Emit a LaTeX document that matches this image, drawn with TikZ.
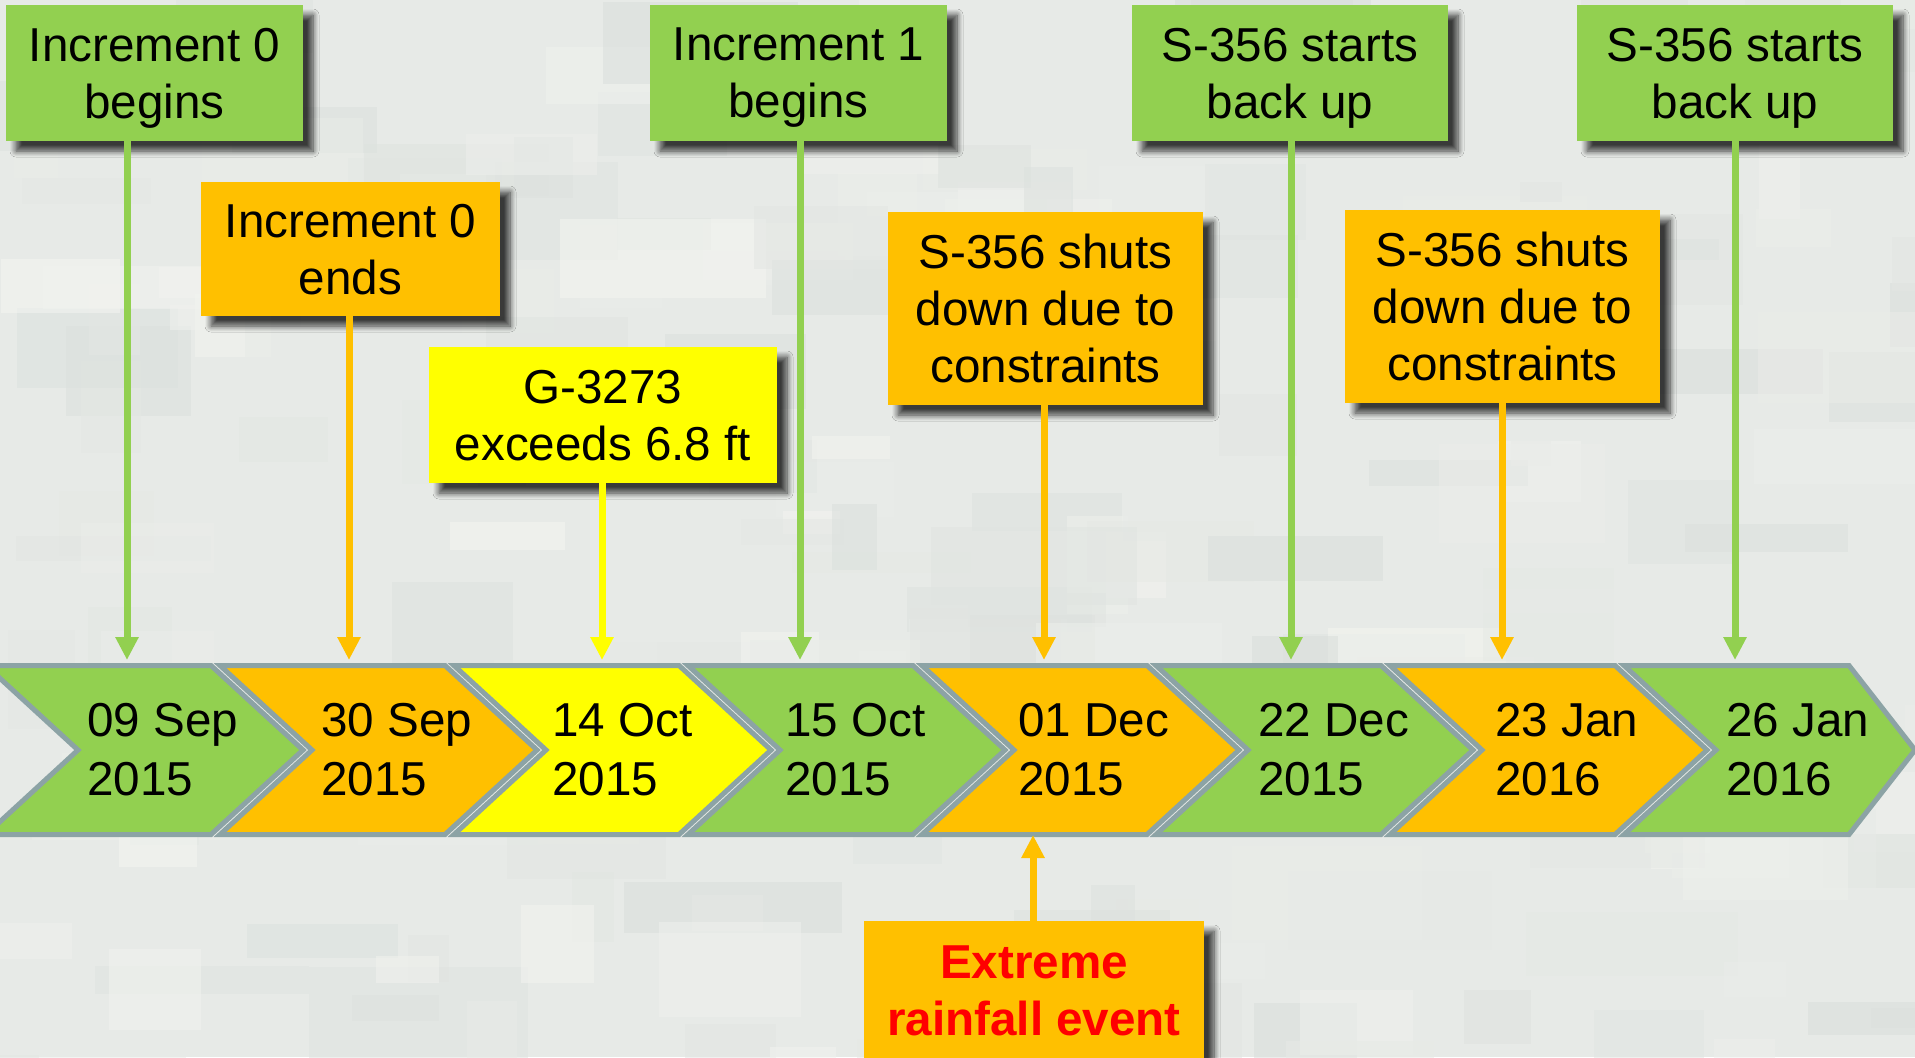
\documentclass[tikz,border=0pt]{standalone}
\usepackage{fontspec}
\setmainfont{Liberation Sans}
\usetikzlibrary{arrows.meta,shadows.blur}
\definecolor{cgreen}{HTML}{92D050}
\definecolor{corange}{HTML}{FFC000}
\definecolor{cyellow}{HTML}{FFFF00}
\definecolor{cborder}{RGB}{140,163,165}
\definecolor{camoL}{HTML}{F4F5F1}
\definecolor{camoD}{HTML}{D9DEDB}
\definecolor{camoB}{HTML}{E7EAE7}
\newcommand\boxfont{\fontsize{23.8}{28.5}\selectfont}
\newcommand\datefont{\fontsize{23.8}{29.5}\selectfont}
\tikzset{
  box/.style={rectangle, inner sep=0pt, align=center, font=\boxfont, text depth=0pt,
    blur shadow={shadow xshift=5pt, shadow yshift=-5pt, shadow blur radius=3pt, shadow opacity=75, shadow blur steps=8}},
  gbox/.style={box, fill=cgreen},
  obox/.style={box, fill=corange},
  ybox/.style={box, fill=cyellow},
  arr/.style={line width=3.5pt, -{Triangle[width=11pt,length=11.5pt]}},
  chev/.style={draw=cborder, line width=2.5pt, line join=miter},
  datetext/.style={anchor=west, align=left, inner sep=0pt, font=\datefont},
}
\begin{document}
\begin{tikzpicture}[x=0.5pt,y=-0.5pt]
\clip (0,0) rectangle (1915,1057);
\fill[camoB] (0,0) rectangle (1915,1057);
\pgfmathsetseed{11}
\foreach \k in {1,...,220}{
  \pgfmathsetmacro\px{rnd*1950-30}
  \pgfmathsetmacro\py{rnd*1090-30}
  \pgfmathsetmacro\pw{40+rnd*180}
  \pgfmathsetmacro\ph{20+rnd*80}
  \pgfmathsetmacro\pm{round(rnd*100)}
  \fill[camoL!\pm!camoD, opacity=0.55] (\px,\py) rectangle ++(\pw,\ph);
}
% chevrons
\foreach \i/\c in {0/cgreen,1/corange,2/cyellow,3/cgreen,4/corange,5/cgreen,6/corange}{
  \pgfmathsetmacro\L{-14+234*\i}
  \pgfmathsetmacro\R{211+234*\i}
  \draw[chev, fill=\c] (\L,665.5) -- (\R,665.5) -- (\R+92,750) -- (\R,834.5) -- (\L,834.5) -- (\L+92,750) -- cycle;
}
\draw[chev, fill=cgreen] (1624,665.5) -- (1849,665.5) -- (1915,750) -- (1849,834.5) -- (1624,834.5) -- (1716,750) -- cycle;
% dates
\node[datetext] (d0) at (87,750) {09 Sep\\2015};
\node[datetext] (d1) at (321,750) {30 Sep\\2015};
\node[datetext] (d2) at (552,750) {14 Oct\\2015};
\node[datetext] (d3) at (785,750) {15 Oct\\2015};
\node[datetext] (d4) at (1018,750) {01 Dec\\2015};
\node[datetext] (d5) at (1258,750) {22 Dec\\2015};
\node[datetext] (d6) at (1495,750) {23 Jan\\2016};
\node[datetext] (d7) at (1726,750) {26 Jan\\2016};
% boxes
\node[gbox, minimum width=148.5pt, minimum height=68pt] (b0) at (154.5,73) {Increment 0\\begins};
\node[obox, minimum width=149.5pt, minimum height=67pt] (b1) at (350.5,249) {Increment 0\\ends};
\node[ybox, minimum width=174pt, minimum height=68pt] (b2) at (603,415) {G-3273\\exceeds 6.8 ft};
\node[gbox, minimum width=148.5pt, minimum height=68pt] (b3) at (798.5,73) {Increment 1\\begins};
\node[obox, minimum width=157.5pt, minimum height=96.5pt] (b4) at (1045.5,308.5) {S-356 shuts\\down due to\\constraints};
\node[gbox, minimum width=158pt, minimum height=68pt] (b5) at (1290,73) {S-356 starts\\back up};
\node[obox, minimum width=157.5pt, minimum height=96.5pt] (b6) at (1502.5,306.5) {S-356 shuts\\down due to\\constraints};
\node[gbox, minimum width=158pt, minimum height=68pt] (b7) at (1735,73) {S-356 starts\\back up};
\node[obox, minimum width=170pt, minimum height=70pt, text=red, font=\boxfont\bfseries] (rain) at (1034,991) {Extreme\\rainfall event};
% arrow targets
\coordinate (t0) at (127,660);
\coordinate (t1) at (349,660);
\coordinate (t2) at (602,660);
\coordinate (t3) at (800,660);
\coordinate (t4) at (1044,660);
\coordinate (t5) at (1291,660);
\coordinate (t6) at (1502,660);
\coordinate (t7) at (1735,660);
\coordinate (tr) at (1033,835);
\draw[arr, cgreen] (b0.south -| t0) -- (t0);
\draw[arr, corange] (b1.south -| t1) -- (t1);
\draw[arr, cyellow] (b2.south -| t2) -- (t2);
\draw[arr, cgreen] (b3.south -| t3) -- (t3);
\draw[arr, corange] (b4.south -| t4) -- (t4);
\draw[arr, cgreen] (b5.south -| t5) -- (t5);
\draw[arr, corange] (b6.south -| t6) -- (t6);
\draw[arr, cgreen] (b7.south -| t7) -- (t7);
\draw[arr, corange] (rain.north -| tr) -- (tr);
\end{tikzpicture}
\end{document}
